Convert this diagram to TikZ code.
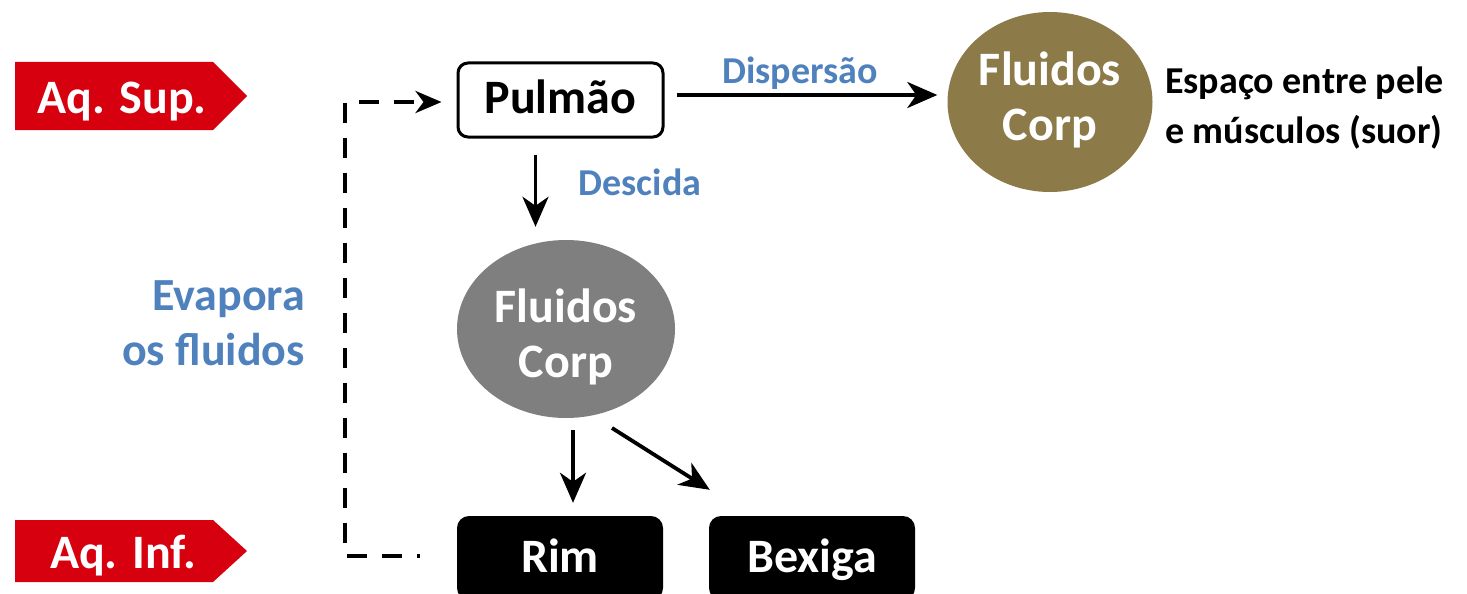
\documentclass[tikz,border=0pt]{standalone}
\usepackage{fontspec}
\setmainfont{Carlito}
\usetikzlibrary{arrows.meta,calc,shapes.geometric}
\definecolor{tagred}{HTML}{D7000F}
\definecolor{lblue}{HTML}{4F81BD}
\definecolor{goldc}{HTML}{8C7B48}
\definecolor{grayc}{HTML}{7F7F7F}
\begin{document}
\begin{tikzpicture}[x=1pt,y=-1pt,
  big/.style={font=\fontsize{48}{55}\selectfont\bfseries},
  mid/.style={font=\fontsize{38}{46}\selectfont\bfseries},
  txt/.style={inner sep=0pt},
  tagtext/.style={big, txt, white, anchor=base},
  wbox/.style={draw, line width=3pt, rounded corners=10pt, fill=white, big,
    minimum width=205pt, minimum height=74pt, inner sep=0pt,
    text height=30pt, text depth=3pt},
  bbox/.style={fill=black, rounded corners=12pt, big, text=white,
    minimum width=206pt, minimum height=84pt, inner sep=0pt,
    text height=30pt, text depth=2pt},
  ell/.style={ellipse, inner sep=0pt},
  arr/.style={line width=3.8pt, -{Stealth[length=30pt,width=26pt,inset=9pt]}},
  dasharr/.style={line width=4pt, dash pattern=on 20pt off 15pt, dash phase=17pt,
    -{Stealth[length=26pt,width=22pt,inset=8pt]}},
  bluelbl/.style={mid, txt, lblue, anchor=base},
  evap/.style={font=\fontsize{46}{52}\selectfont\bfseries, txt, lblue, anchor=base east}
]
\useasboundingbox (0,0) rectangle (1467,594);
\clip (0,0) rectangle (1467,594);

% red tags
\fill[tagred] (15,62) -- (213,62) -- (247,96) -- (213,130) -- (15,130) -- cycle;
\node[tagtext] (sup) at (122,113) {Aq. Sup.};
\fill[tagred] (15,520) -- (213,520) -- (247,551) -- (213,582) -- (15,582) -- cycle;
\node[tagtext] (inf) at (123,568) {Aq. Inf.};

% boxes
\node[wbox] (pul) at (560.5,100) {Pulmão};
\node[bbox] (rim) at (560,558) {Rim};
\node[bbox] (bex) at (812,558) {Bexiga};

% ellipses
\node[ell, fill=grayc, minimum width=218pt, minimum height=178pt] (gray) at (566,329) {};
\node[big, txt, white, anchor=base] (grayA) at (566,322) {Fluidos};
\node[big, txt, white, anchor=base] (grayB) at (566,377) {Corp};

\node[ell, fill=goldc, minimum width=205pt, minimum height=180pt] (gold) at (1050,102) {};
\node[big, txt, white, anchor=base] (goldA) at (1050,85) {Fluidos};
\node[big, txt, white, anchor=base] (goldB) at (1050,140) {Corp};

% side texts
\node[mid, txt, anchor=base west] (esp1) at (1165,93) {Espaço entre pele};
\node[mid, txt, anchor=base west] (esp2) at (1165,143) {e músculos (suor)};
\node[evap] (ev1) at (305,310) {Evapora};
\node[evap] (ev2) at (305,365) {os fluidos};
\node[bluelbl] (disp) at (800,84) {Dispersão};
\node[bluelbl] (desc) at (640,195) {Descida};

% arrows
\draw[arr, shorten >=10pt] ([yshift=5pt,xshift=12pt]pul.east) -- ([yshift=5pt]pul.east -| gold.west);
\draw[arr, shorten <=16pt, shorten >=13pt] ([xshift=-25pt]pul.south) -- ([xshift=-25pt]pul.south |- gray.north);
\draw[arr, shorten <=12pt, shorten >=13pt] ([xshift=7pt]gray.south) -- ([xshift=7pt]gray.south |- rim.north);
\draw[arr] ($(gray.center)+(46,99)$) -- ($(bex.north west)+(1,-26)$);

% dashed loop
\coordinate (dsA) at (420,556);
\coordinate (dsB) at (345,556);
\draw[dasharr, shorten >=15pt] (dsA) -- (dsB) |- ([yshift=-2pt]pul.west);
\end{tikzpicture}
\end{document}
